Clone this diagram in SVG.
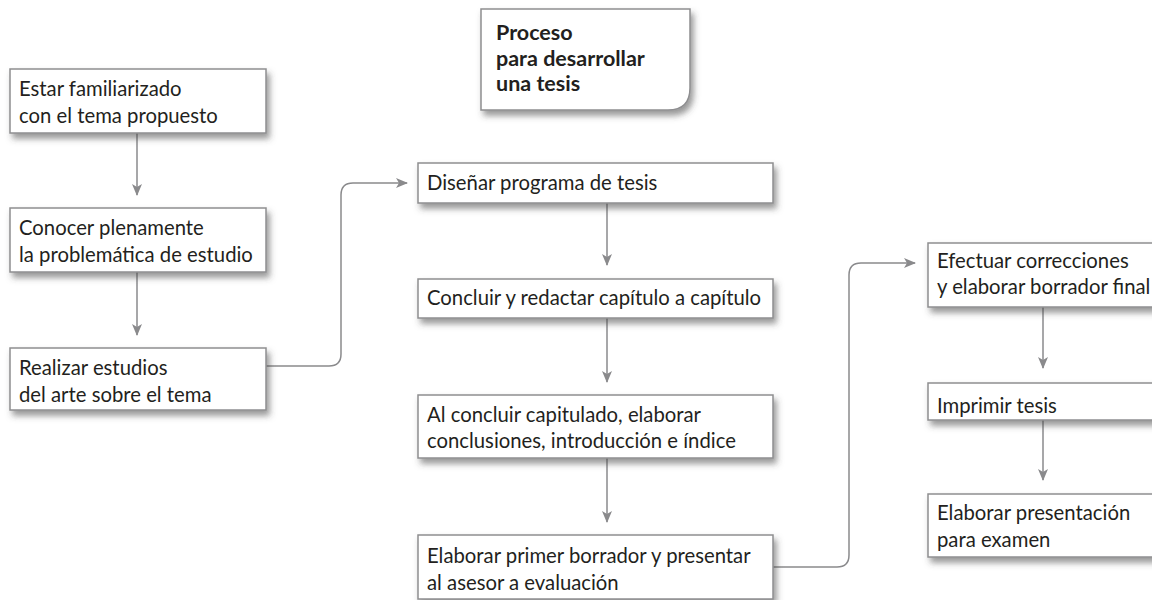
<svg xmlns="http://www.w3.org/2000/svg" width="1152" height="600" viewBox="0 0 1152 600">
<defs>
<filter id="sh" x="-10%" y="-20%" width="130%" height="160%">
<feDropShadow dx="3" dy="5" stdDeviation="3" flood-color="#444" flood-opacity="0.55"/>
</filter>
<marker id="ah" viewBox="0 0 12 10" refX="11" refY="5" markerWidth="12" markerHeight="10" markerUnits="userSpaceOnUse" orient="auto">
<path d="M0,0 L12,5 L0,10 L3,5 Z" fill="#8a8a8c"/>
</marker>
</defs>
<style>
.box{fill:#fff;stroke:#8e8e90;stroke-width:1.5;filter:url(#sh)}
.t{font-family:Lato,"Liberation Sans",sans-serif;font-size:20.3px;fill:#231f20}
.b{font-family:Lato,"Liberation Sans",sans-serif;font-size:21.5px;font-weight:bold;fill:#231f20}
.c{fill:none;stroke:#8a8a8c;stroke-width:1.5;marker-end:url(#ah)}
</style>
<rect width="1152" height="600" fill="#fff"/>
<g id="connectors">
<path class="c" d="M137,133 V195"/>
<path class="c" d="M137,272 V335"/>
<path class="c" d="M266,366 H329 Q341,366 341,354 V195 Q341,183 353,183 H407"/>
<path class="c" d="M607,203 V265"/>
<path class="c" d="M607,318 V382"/>
<path class="c" d="M607,458 V522"/>
<path class="c" d="M773,567 H837 Q849,567 849,555 V275 Q849,263 861,263 H915"/>
<path class="c" d="M1043,307 V368"/>
<path class="c" d="M1043,420 V480"/>
</g>
<g id="title">
<path class="box" d="M481,9 H690 V88 Q690,110 668,110 H481 Z"/>
<text class="b" x="496" y="40">Proceso</text>
<text class="b" x="496" y="66">para desarrollar</text>
<text class="b" x="496" y="91">una tesis</text>
</g>
<g id="n1">
<rect class="box" x="10" y="69" width="256" height="64"/>
<text class="t" x="19" y="96">Estar familiarizado</text>
<text class="t" x="19" y="123">con el tema propuesto</text>
</g>
<g id="n2">
<rect class="box" x="10" y="208" width="256" height="64"/>
<text class="t" x="19" y="235">Conocer plenamente</text>
<text class="t" x="19" y="262">la problemática de estudio</text>
</g>
<g id="n3">
<rect class="box" x="10" y="348" width="256" height="62"/>
<text class="t" x="19" y="375">Realizar estudios</text>
<text class="t" x="19" y="402">del arte sobre el tema</text>
</g>
<g id="n4">
<rect class="box" x="418" y="163" width="355" height="40"/>
<text class="t" x="427" y="190">Diseñar programa de tesis</text>
</g>
<g id="n5">
<rect class="box" x="418" y="279" width="355" height="39"/>
<text class="t" x="427" y="305">Concluir y redactar capítulo a capítulo</text>
</g>
<g id="n6">
<rect class="box" x="418" y="395" width="355" height="63"/>
<text class="t" x="427" y="422">Al concluir capitulado, elaborar</text>
<text class="t" x="427" y="448">conclusiones, introducción e índice</text>
</g>
<g id="n7">
<rect class="box" x="418" y="535" width="355" height="64"/>
<text class="t" x="427" y="563">Elaborar primer borrador y presentar</text>
<text class="t" x="427" y="590">al asesor a evaluación</text>
</g>
<g id="n8">
<rect class="box" x="928" y="243" width="240" height="64"/>
<text class="t" x="937" y="268">Efectuar correcciones</text>
<text class="t" x="937" y="294">y elaborar borrador final</text>
</g>
<g id="n9">
<rect class="box" x="928" y="383" width="240" height="37"/>
<text class="t" x="937" y="413">Imprimir tesis</text>
</g>
<g id="n10">
<rect class="box" x="928" y="494" width="240" height="63"/>
<text class="t" x="937" y="520">Elaborar presentación</text>
<text class="t" x="937" y="547">para examen</text>
</g>
</svg>
